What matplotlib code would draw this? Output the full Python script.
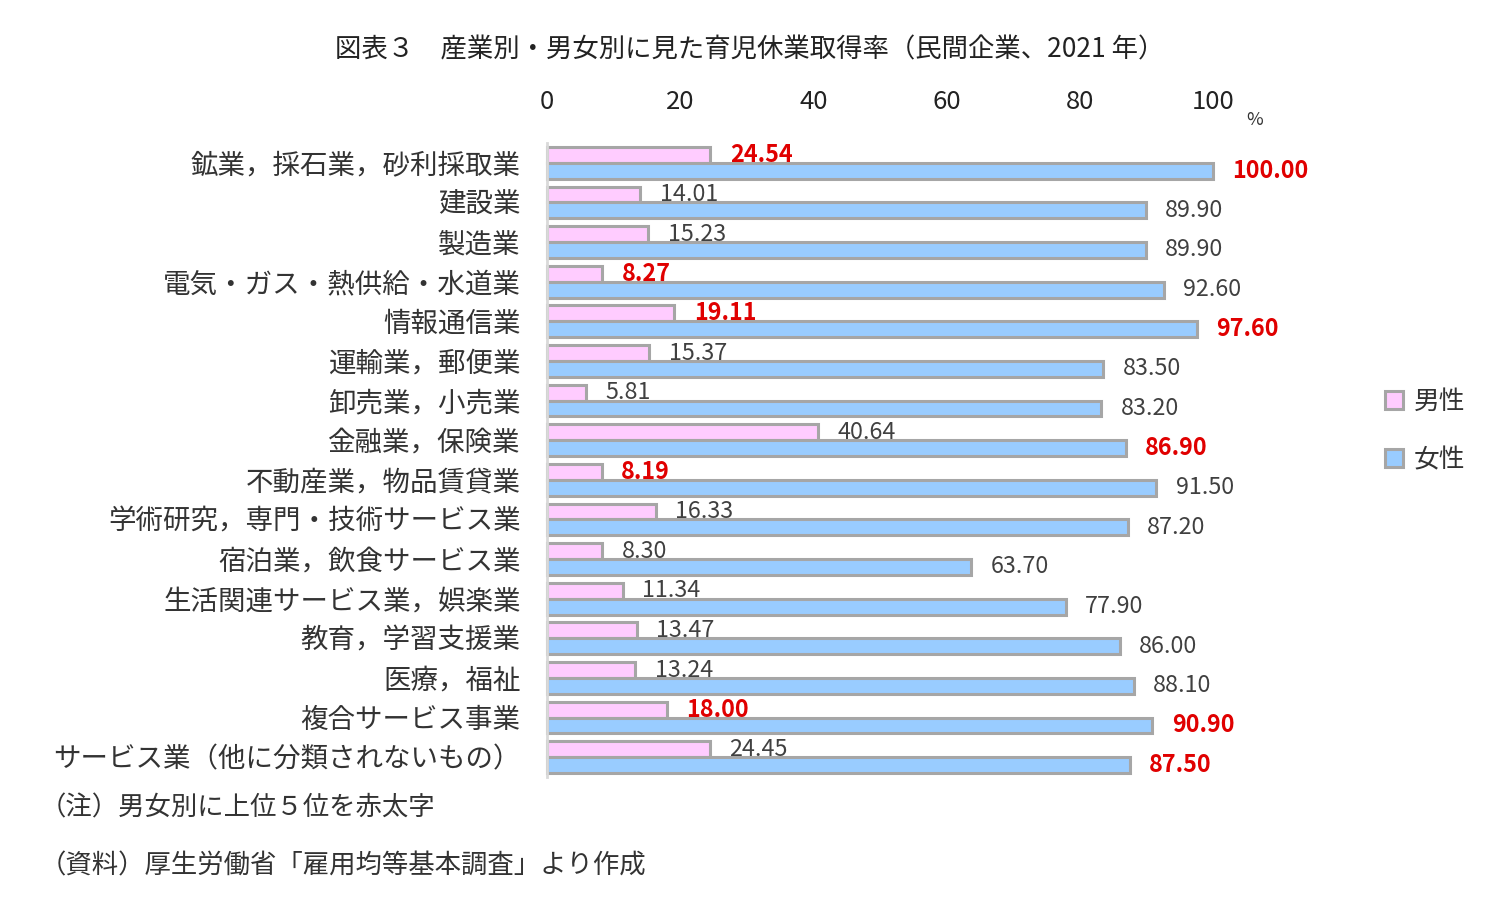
import matplotlib
matplotlib.use("Agg")
import matplotlib.pyplot as plt
import numpy as np

plt.rcParams["font.family"] = ["Noto Sans CJK JP", "DejaVu Sans"]

categories = [
    "鉱業，採石業，砂利採取業", "建設業", "製造業", "電気・ガス・熱供給・水道業",
    "情報通信業", "運輸業，郵便業", "卸売業，小売業", "金融業，保険業",
    "不動産業，物品賃貸業", "学術研究，専門・技術サービス業", "宿泊業，飲食サービス業",
    "生活関連サービス業，娯楽業", "教育，学習支援業", "医療，福祉", "複合サービス事業",
    "サービス業（他に分類されないもの）",
]
male = [24.54, 14.01, 15.23, 8.27, 19.11, 15.37, 5.81, 40.64,
        8.19, 16.33, 8.30, 11.34, 13.47, 13.24, 18.00, 24.45]
female = [100.00, 89.90, 89.90, 92.60, 97.60, 83.50, 83.20, 86.90,
          91.50, 87.20, 63.70, 77.90, 86.00, 88.10, 90.90, 87.50]
# highlighted (red bold) in the source chart
male_red = [True, False, False, True, True, False, False, False,
            True, False, False, False, False, False, True, False]
female_red = [True, False, False, False, True, False, False, True,
              False, False, False, False, False, False, True, True]
xticks = [0, 20, 40, 60, 80, 100]

W, H = 1499, 901
fig = plt.figure(figsize=(W / 100, H / 100), dpi=100)


def fx(px):
    return px / W


def fy(py):
    return 1 - py / H


ax = fig.add_axes([fx(547), fy(777), fx(1213) - fx(547), fy(143) - fy(777)])

pink = "#FFCCFF"
blue = "#99CCFF"
edge = "#A6A6A6"
y = np.arange(len(categories))
h = 0.4
ax.barh(y - h / 2, male, height=h, color=pink, edgecolor=edge, linewidth=2.2,
        label="男性", clip_on=False)
ax.barh(y + h / 2, female, height=h, color=blue, edgecolor=edge, linewidth=2.2,
        label="女性", clip_on=False)

for i in range(len(categories)):
    for val, red, off in ((male[i], male_red[i], -h / 2), (female[i], female_red[i], h / 2)):
        ax.annotate("{0:.2f}".format(val), (val, y[i] + off), xytext=(14, 0),
                    textcoords="offset points", va="center", ha="left",
                    fontsize=16.8, color="#E00000" if red else "#404040",
                    fontweight="bold" if red else "normal", annotation_clip=False)

ax.set_xlim(0, 100)
ax.set_ylim(len(categories) - 0.5, -0.5)
ax.xaxis.tick_top()
ax.set_xticks(xticks)
ax.set_xticklabels([str(t) for t in xticks], fontsize=18.5, color="#222222")
ax.tick_params(axis="x", length=0, pad=20)
ax.set_yticks(y)
ax.set_yticklabels(categories, fontsize=19.8, color="#333333")
ax.tick_params(axis="y", length=0, pad=19)
for s in ("top", "right", "bottom"):
    ax.spines[s].set_visible(False)
ax.spines["left"].set_color("#D9D9D9")
ax.spines["left"].set_linewidth(2)

fig.text(fx(1255), fy(120), "%", fontsize=13, ha="center", va="center", color="#333333")
fig.text(0.5, fy(50), "図表３　産業別・男女別に見た育児休業取得率（民間企業、2021 年）",
         fontsize=19, ha="center", va="center", color="#222222")

leg = fig.legend(loc="upper left", bbox_to_anchor=(fx(1362), fy(366)), frameon=False,
                 fontsize=18.5, handlelength=0.7, handleheight=0.7, labelspacing=1.25,
                 handletextpad=0.4)
for t in leg.get_texts():
    t.set_color("#333333")

fig.text(fx(40), fy(808), "（注）男女別に上位５位を赤太字", fontsize=19, ha="left",
         va="center", color="#333333")
fig.text(fx(40), fy(866), "（資料）厚生労働省「雇用均等基本調査」より作成", fontsize=19,
         ha="left", va="center", color="#333333")

fig.savefig("out.png", dpi=100)
